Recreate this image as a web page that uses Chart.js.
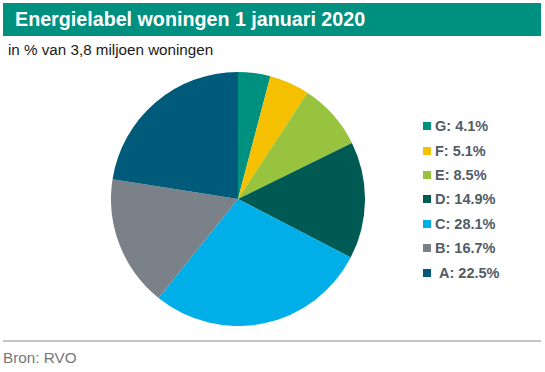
<html>
<head>
    <script src="https://cdn.jsdelivr.net/npm/chart.js"></script>
    <style>
        body { margin: 0; width: 545px; height: 372px; background: white; font-family: Arial, "Liberation Sans", sans-serif; position: relative; overflow: hidden; }
        .header { position: absolute; left: 3px; top: 3px; width: 538px; height: 33px; background: #00907f; }
        .header h1 { margin: 0; color: white; font-size: 19.7px; font-weight: bold; line-height: 33px; padding-left: 12px; }
        .sub { position: absolute; left: 8px; top: 41px; font-size: 15.2px; color: #1a1a1a; }
        .pie { position: absolute; left: 111px; top: 72px; width: 254px; height: 254px; }
        .legend { position: absolute; left: 423px; top: 114px; }
        .legend-row { height: 24.4px; display: flex; align-items: center; font-size: 14.5px; font-weight: bold; color: #525c66; }
        .legend-box { width: 8px; height: 8px; margin-right: 4px; }
        .line { position: absolute; left: 3px; top: 340px; width: 538px; height: 2px; background: #c4c4c4; }
        .bron { position: absolute; left: 3px; top: 349px; font-size: 15.3px; color: #777; }
    </style>
</head>
<body>
    <div class="header"><h1>Energielabel woningen 1 januari 2020</h1></div>
    <div class="sub">in % van 3,8 miljoen woningen</div>
    <div class="pie"><canvas id="chart"></canvas></div>
    <div class="legend" id="legend"></div>
    <div class="line"></div>
    <div class="bron">Bron: RVO</div>

    <script>
        // labels en percentages (met de klok mee vanaf boven)
        const labels = ['G', 'F', 'E', 'D', 'C', 'B', 'A'];
        const values = [4.1, 5.1, 8.5, 14.9, 28.1, 16.7, 22.5];
        const colors = ['#00907f', '#f5c000', '#98c33e', '#005a54', '#00aee8', '#7b8189', '#005a7a'];

        new Chart(document.getElementById('chart').getContext('2d'), {
            type: 'pie',
            data: {
                labels: labels,
                datasets: [{
                    data: values,
                    backgroundColor: colors,
                    borderWidth: 0
                }]
            },
            options: {
                responsive: true,
                maintainAspectRatio: false,
                animation: false,
                layout: { padding: 0 },
                plugins: {
                    legend: { display: false },
                    tooltip: { enabled: false }
                }
            }
        });

        const legend = document.getElementById('legend');
        labels.forEach((l, i) => {
            const row = document.createElement('div');
            row.className = 'legend-row';
            const box = document.createElement('div');
            box.className = 'legend-box';
            box.style.background = colors[i];
            if (l === 'A') box.style.marginRight = '8px';
            const txt = document.createElement('span');
            txt.textContent = l + ': ' + values[i].toFixed(1) + '%';
            row.appendChild(box);
            row.appendChild(txt);
            legend.appendChild(row);
        });
    </script>
</body>
</html>
